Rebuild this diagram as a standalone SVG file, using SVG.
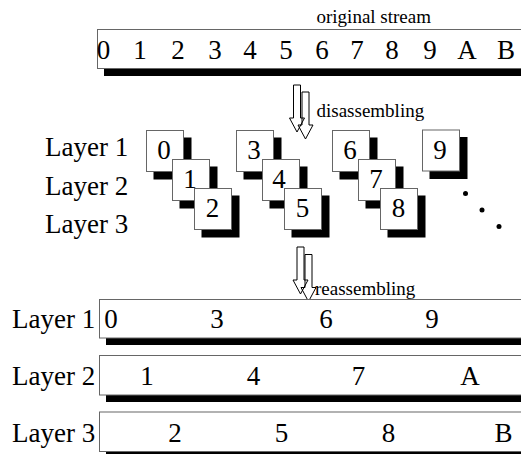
<svg xmlns="http://www.w3.org/2000/svg" width="521" height="454" viewBox="0 0 521 454" font-family="Liberation Serif, Times New Roman, serif">
  <style>
    .big { font-size: 27px; }
    .small { font-size: 19px; }
    .mid { text-anchor: middle; }
    .box { fill: #fff; stroke: #666; stroke-width: 1; }
    .shadow { fill: #000; }
    .arrow { fill: none; stroke: #000; stroke-width: 1; }
    .dot { fill: #000; }
  </style>
  <defs>
    <!-- hollow down arrow: center x=0, top y=0, tip at y=47 -->
    <path id="downArrow" d="M -3.5 0 H 3.5 V 33 H 7.5 L 0 47 L -7.5 33 H -3.5 Z"/>
    <!-- small stacked box with drop shadow -->
    <g id="card">
      <rect class="shadow" x="7.5" y="7.5" width="38" height="42"/>
      <rect class="box" x="0.5" y="0.5" width="37" height="41"/>
    </g>
  </defs>

  <rect width="521" height="454" fill="#fff"/>

  <!-- original stream -->
  <g id="original-stream">
    <text class="small" x="316.5" y="23">original stream</text>
    <rect class="shadow" x="104" y="36" width="430" height="40"/>
    <rect class="box" x="97.5" y="29.5" width="430" height="39"/>
    <g class="big mid">
      <text x="103.5" y="59">0</text>
      <text x="140" y="59">1</text>
      <text x="178" y="59">2</text>
      <text x="215" y="59">3</text>
      <text x="250" y="59">4</text>
      <text x="286" y="59">5</text>
      <text x="322" y="59">6</text>
      <text x="357" y="59">7</text>
      <text x="392" y="59">8</text>
      <text x="430" y="59">9</text>
      <text x="467" y="59">A</text>
      <text x="506" y="59">B</text>
    </g>
  </g>

  <!-- arrows between stages -->
  <g id="connectors">
    <g id="disassemble-arrow">
      <use href="#downArrow" class="arrow" transform="translate(297,85)"/>
      <use href="#downArrow" class="arrow" transform="translate(305.5,92)"/>
      <text class="small" x="316.5" y="117">disassembling</text>
    </g>
    <g id="reassemble-arrow">
      <use href="#downArrow" class="arrow" transform="translate(300.5,247)"/>
      <use href="#downArrow" class="arrow" transform="translate(308.5,254.5)"/>
      <text class="small" x="315" y="295">reassembling</text>
    </g>
  </g>

  <!-- layer labels for the split packets -->
  <g id="split-labels" class="big">
    <text x="45" y="156">Layer 1</text>
    <text x="45" y="194.5">Layer 2</text>
    <text x="45" y="233">Layer 3</text>
  </g>

  <!-- packet groups -->
  <g id="group-0-2">
    <g id="pkt-0"><use href="#card" x="146" y="130"/><text class="big mid" x="164" y="159">0</text></g>
    <g id="pkt-1"><use href="#card" x="172" y="159"/><text class="big mid" x="190" y="188">1</text></g>
    <g id="pkt-2"><use href="#card" x="194" y="188"/><text class="big mid" x="212.5" y="217">2</text></g>
  </g>
  <g id="group-3-5">
    <g id="pkt-3"><use href="#card" x="236" y="130"/><text class="big mid" x="254" y="159">3</text></g>
    <g id="pkt-4"><use href="#card" x="262" y="159"/><text class="big mid" x="279" y="188">4</text></g>
    <g id="pkt-5"><use href="#card" x="284" y="188"/><text class="big mid" x="302.5" y="217">5</text></g>
  </g>
  <g id="group-6-8">
    <g id="pkt-6"><use href="#card" x="332" y="130"/><text class="big mid" x="350" y="159">6</text></g>
    <g id="pkt-7"><use href="#card" x="358" y="159"/><text class="big mid" x="376" y="188">7</text></g>
    <g id="pkt-8"><use href="#card" x="380" y="188"/><text class="big mid" x="398.5" y="217">8</text></g>
  </g>
  <g id="pkt-9"><use href="#card" x="422" y="129.5"/><text class="big mid" x="440" y="158.5">9</text></g>

  <g id="ellipsis">
    <circle class="dot" cx="465.5" cy="193.5" r="2.5"/>
    <circle class="dot" cx="482" cy="210" r="2.5"/>
    <circle class="dot" cx="499" cy="226.5" r="2.5"/>
  </g>

  <!-- reassembled layer streams -->
  <g id="layer-1">
    <text class="big" x="12" y="328">Layer 1</text>
    <rect class="shadow" x="106" y="306" width="430" height="39"/>
    <rect class="box" x="99.5" y="299.5" width="430" height="38.5"/>
    <g class="big mid">
      <text x="111" y="328">0</text>
      <text x="217" y="328">3</text>
      <text x="326" y="328">6</text>
      <text x="432" y="328">9</text>
    </g>
  </g>
  <g id="layer-2">
    <text class="big" x="12" y="385">Layer 2</text>
    <rect class="shadow" x="106" y="362" width="430" height="40"/>
    <rect class="box" x="99.5" y="355.5" width="430" height="39.5"/>
    <g class="big mid">
      <text x="147" y="385">1</text>
      <text x="253.5" y="385">4</text>
      <text x="358.5" y="385">7</text>
      <text x="470" y="385">A</text>
    </g>
  </g>
  <g id="layer-3">
    <text class="big" x="12" y="441.5">Layer 3</text>
    <rect class="shadow" x="106" y="419" width="430" height="40"/>
    <rect class="box" x="99.5" y="412" width="430" height="39.5"/>
    <g class="big mid">
      <text x="175" y="441.5">2</text>
      <text x="281.5" y="441.5">5</text>
      <text x="388.5" y="441.5">8</text>
      <text x="503.5" y="441.5">B</text>
    </g>
  </g>
</svg>
